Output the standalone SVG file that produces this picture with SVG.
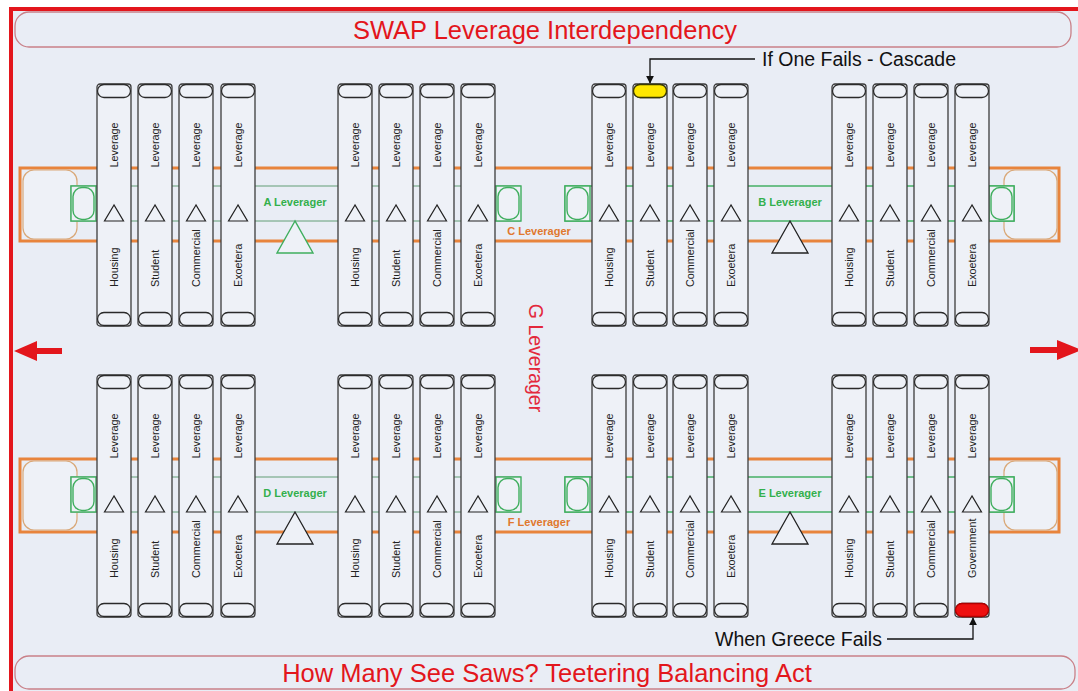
<svg xmlns="http://www.w3.org/2000/svg" xmlns:xlink="http://www.w3.org/1999/xlink" width="1078" height="691" viewBox="0 0 1078 691">
  <style>
    .frame { fill: #e9edf5; stroke: #e3161c; stroke-width: 4; }
    .banner { fill: #e9edf5; stroke: #c98088; stroke-width: 1.3; }
    .bannerText { font-family: "Liberation Sans", Arial, sans-serif; font-size: 25.5px; fill: #e3161c; text-anchor: middle; }
    .body { fill: #eef1f7; stroke: #3c3c3c; stroke-width: 1.3; }
    .cap { fill: #eef1f7; stroke: #2a2a2a; stroke-width: 1.3; }
    .tri { fill: #eef1f7; stroke: #222; stroke-width: 1.2; }
    .lbl { font-family: "Liberation Sans", Arial, sans-serif; font-size: 10.8px; fill: #222; dominant-baseline: central; }
    .top { text-anchor: middle; }
    .bot { text-anchor: start; }
    .rail { fill: none; stroke: #e8843c; stroke-width: 3; }
    .endcap { fill: #eef1f7; stroke: #d9a878; stroke-width: 1.2; }
    .beam { fill: none; stroke: #45b065; stroke-width: 1.5; }
    .beamA { fill: none; stroke: #8fb8a0; stroke-width: 1.5; }
    .box { fill: #eef1f7; stroke: #3fae5e; stroke-width: 1.4; }
    .pivotG { fill: #eef1f7; stroke: #3fae5e; stroke-width: 1.4; }
    .pivotK { fill: #eef1f7; stroke: #222; stroke-width: 1.3; }
    .gl { font-family: "Liberation Sans", Arial, sans-serif; font-size: 11px; font-weight: bold; fill: #33b04c; text-anchor: middle; dominant-baseline: central; }
    .ol { font-family: "Liberation Sans", Arial, sans-serif; font-size: 11px; font-weight: bold; fill: #e0782e; text-anchor: middle; dominant-baseline: central; }
    .note { font-family: "Liberation Sans", Arial, sans-serif; font-size: 19.5px; fill: #111; dominant-baseline: central; }
    .lead { fill: none; stroke: #111; stroke-width: 1.3; }
    .redArrow { fill: #e3161c; }
  </style>
  <defs>
    <!-- one leverage column: body, top and bottom caps, fulcrum mark -->
    <g id="col">
      <rect class="body" x="0" y="0" width="34" height="242" rx="3"/>
      <rect class="cap" x="0.5" y="0.5" width="33" height="13" rx="6.5"/>
      <rect class="cap" x="0.5" y="228.5" width="33" height="13" rx="6.5"/>
      <polygon class="tri" points="17,121 7.5,137 26.5,137"/>
    </g>
    <!-- square end of a see-saw beam with its rounded seat -->
    <g id="seat">
      <rect class="box" x="0" y="0" width="25" height="35"/>
      <rect class="box" x="2" y="1.5" width="21" height="32" rx="9"/>
    </g>
    <marker id="tip" viewBox="0 0 10 10" refX="9" refY="5" markerWidth="6" markerHeight="6" orient="auto">
      <path d="M0,0 L10,5 L0,10 z" fill="#111"/>
    </marker>
  </defs>

  <rect x="0" y="0" width="1078" height="691" fill="#ffffff"/>
  <rect class="frame" x="11" y="9" width="1100" height="700"/>

  <g id="title">
    <rect class="banner" x="15" y="12" width="1056" height="35" rx="14"/>
    <text class="bannerText" x="545" y="38.5">SWAP Leverage Interdependency</text>
  </g>
  <g id="footer">
    <rect class="banner" x="15" y="656" width="1060" height="33" rx="14"/>
    <text class="bannerText" x="547" y="681.5">How Many See Saws? Teetering Balancing Act</text>
  </g>

  <!-- rails and beams sit behind the columns -->
  <g id="connectors">
    <!-- upper row -->
    <g id="c-leverager-top">
      <rect class="rail" x="20" y="168" width="1039" height="73"/>
      <rect class="endcap" x="23" y="170" width="54" height="69" rx="11"/>
      <rect class="endcap" x="1004" y="170" width="53" height="69" rx="11"/>
    </g>
    <g id="a-leverager">
      <rect class="beamA" x="71" y="186" width="449" height="35"/>
      <use xlink:href="#seat" x="71" y="186"/>
      <use xlink:href="#seat" x="496" y="186"/>
      <polygon class="pivotG" points="295,221 277,253 313,253"/>
    </g>
    <g id="b-leverager">
      <rect class="beam" x="565" y="186" width="449" height="35"/>
      <use xlink:href="#seat" x="565" y="186"/>
      <use xlink:href="#seat" x="989" y="186"/>
      <polygon class="pivotK" points="790,221 772,253 808,253"/>
    </g>
    <!-- lower row -->
    <g id="f-leverager-bottom">
      <rect class="rail" x="20" y="459" width="1039" height="73"/>
      <rect class="endcap" x="23" y="461" width="54" height="69" rx="11"/>
      <rect class="endcap" x="1004" y="461" width="53" height="69" rx="11"/>
    </g>
    <g id="d-leverager">
      <rect class="beamA" x="71" y="477" width="449" height="35"/>
      <use xlink:href="#seat" x="71" y="477"/>
      <use xlink:href="#seat" x="496" y="477"/>
      <polygon class="pivotK" points="295,512 277,544 313,544"/>
    </g>
    <g id="e-leverager">
      <rect class="beam" x="565" y="477" width="449" height="35"/>
      <use xlink:href="#seat" x="565" y="477"/>
      <use xlink:href="#seat" x="989" y="477"/>
      <polygon class="pivotK" points="790,512 772,544 808,544"/>
    </g>
  </g>

  <!-- upper row of columns -->
  <g id="r1-c01" transform="translate(97,84)"><use xlink:href="#col"/><text class="lbl top" transform="translate(17,61) rotate(-90)">Leverage</text><text class="lbl bot" transform="translate(17,203) rotate(-90)">Housing</text></g>
  <g id="r1-c02" transform="translate(138,84)"><use xlink:href="#col"/><text class="lbl top" transform="translate(17,61) rotate(-90)">Leverage</text><text class="lbl bot" transform="translate(17,203) rotate(-90)">Student</text></g>
  <g id="r1-c03" transform="translate(179,84)"><use xlink:href="#col"/><text class="lbl top" transform="translate(17,61) rotate(-90)">Leverage</text><text class="lbl bot" transform="translate(17,203) rotate(-90)">Commercial</text></g>
  <g id="r1-c04" transform="translate(221,84)"><use xlink:href="#col"/><text class="lbl top" transform="translate(17,61) rotate(-90)">Leverage</text><text class="lbl bot" transform="translate(17,203) rotate(-90)">Exoetera</text></g>

  <g id="r1-c05" transform="translate(338,84)"><use xlink:href="#col"/><text class="lbl top" transform="translate(17,61) rotate(-90)">Leverage</text><text class="lbl bot" transform="translate(17,203) rotate(-90)">Housing</text></g>
  <g id="r1-c06" transform="translate(379,84)"><use xlink:href="#col"/><text class="lbl top" transform="translate(17,61) rotate(-90)">Leverage</text><text class="lbl bot" transform="translate(17,203) rotate(-90)">Student</text></g>
  <g id="r1-c07" transform="translate(420,84)"><use xlink:href="#col"/><text class="lbl top" transform="translate(17,61) rotate(-90)">Leverage</text><text class="lbl bot" transform="translate(17,203) rotate(-90)">Commercial</text></g>
  <g id="r1-c08" transform="translate(461,84)"><use xlink:href="#col"/><text class="lbl top" transform="translate(17,61) rotate(-90)">Leverage</text><text class="lbl bot" transform="translate(17,203) rotate(-90)">Exoetera</text></g>

  <g id="r1-c09" transform="translate(592,84)"><use xlink:href="#col"/><text class="lbl top" transform="translate(17,61) rotate(-90)">Leverage</text><text class="lbl bot" transform="translate(17,203) rotate(-90)">Housing</text></g>
  <g id="r1-c10" transform="translate(633,84)"><use xlink:href="#col"/><rect x="0.5" y="0.5" width="33" height="13" rx="6.5" fill="#ffe800" stroke="#3a3a00" stroke-width="1.3"/><text class="lbl top" transform="translate(17,61) rotate(-90)">Leverage</text><text class="lbl bot" transform="translate(17,203) rotate(-90)">Student</text></g>
  <g id="r1-c11" transform="translate(673,84)"><use xlink:href="#col"/><text class="lbl top" transform="translate(17,61) rotate(-90)">Leverage</text><text class="lbl bot" transform="translate(17,203) rotate(-90)">Commercial</text></g>
  <g id="r1-c12" transform="translate(714,84)"><use xlink:href="#col"/><text class="lbl top" transform="translate(17,61) rotate(-90)">Leverage</text><text class="lbl bot" transform="translate(17,203) rotate(-90)">Exoetera</text></g>

  <g id="r1-c13" transform="translate(832,84)"><use xlink:href="#col"/><text class="lbl top" transform="translate(17,61) rotate(-90)">Leverage</text><text class="lbl bot" transform="translate(17,203) rotate(-90)">Housing</text></g>
  <g id="r1-c14" transform="translate(873,84)"><use xlink:href="#col"/><text class="lbl top" transform="translate(17,61) rotate(-90)">Leverage</text><text class="lbl bot" transform="translate(17,203) rotate(-90)">Student</text></g>
  <g id="r1-c15" transform="translate(914,84)"><use xlink:href="#col"/><text class="lbl top" transform="translate(17,61) rotate(-90)">Leverage</text><text class="lbl bot" transform="translate(17,203) rotate(-90)">Commercial</text></g>
  <g id="r1-c16" transform="translate(955,84)"><use xlink:href="#col"/><text class="lbl top" transform="translate(17,61) rotate(-90)">Leverage</text><text class="lbl bot" transform="translate(17,203) rotate(-90)">Exoetera</text></g>

  <!-- lower row of columns -->
  <g id="r2-c01" transform="translate(97,375)"><use xlink:href="#col"/><text class="lbl top" transform="translate(17,61) rotate(-90)">Leverage</text><text class="lbl bot" transform="translate(17,203) rotate(-90)">Housing</text></g>
  <g id="r2-c02" transform="translate(138,375)"><use xlink:href="#col"/><text class="lbl top" transform="translate(17,61) rotate(-90)">Leverage</text><text class="lbl bot" transform="translate(17,203) rotate(-90)">Student</text></g>
  <g id="r2-c03" transform="translate(179,375)"><use xlink:href="#col"/><text class="lbl top" transform="translate(17,61) rotate(-90)">Leverage</text><text class="lbl bot" transform="translate(17,203) rotate(-90)">Commercial</text></g>
  <g id="r2-c04" transform="translate(221,375)"><use xlink:href="#col"/><text class="lbl top" transform="translate(17,61) rotate(-90)">Leverage</text><text class="lbl bot" transform="translate(17,203) rotate(-90)">Exoetera</text></g>

  <g id="r2-c05" transform="translate(338,375)"><use xlink:href="#col"/><text class="lbl top" transform="translate(17,61) rotate(-90)">Leverage</text><text class="lbl bot" transform="translate(17,203) rotate(-90)">Housing</text></g>
  <g id="r2-c06" transform="translate(379,375)"><use xlink:href="#col"/><text class="lbl top" transform="translate(17,61) rotate(-90)">Leverage</text><text class="lbl bot" transform="translate(17,203) rotate(-90)">Student</text></g>
  <g id="r2-c07" transform="translate(420,375)"><use xlink:href="#col"/><text class="lbl top" transform="translate(17,61) rotate(-90)">Leverage</text><text class="lbl bot" transform="translate(17,203) rotate(-90)">Commercial</text></g>
  <g id="r2-c08" transform="translate(461,375)"><use xlink:href="#col"/><text class="lbl top" transform="translate(17,61) rotate(-90)">Leverage</text><text class="lbl bot" transform="translate(17,203) rotate(-90)">Exoetera</text></g>

  <g id="r2-c09" transform="translate(592,375)"><use xlink:href="#col"/><text class="lbl top" transform="translate(17,61) rotate(-90)">Leverage</text><text class="lbl bot" transform="translate(17,203) rotate(-90)">Housing</text></g>
  <g id="r2-c10" transform="translate(633,375)"><use xlink:href="#col"/><text class="lbl top" transform="translate(17,61) rotate(-90)">Leverage</text><text class="lbl bot" transform="translate(17,203) rotate(-90)">Student</text></g>
  <g id="r2-c11" transform="translate(673,375)"><use xlink:href="#col"/><text class="lbl top" transform="translate(17,61) rotate(-90)">Leverage</text><text class="lbl bot" transform="translate(17,203) rotate(-90)">Commercial</text></g>
  <g id="r2-c12" transform="translate(714,375)"><use xlink:href="#col"/><text class="lbl top" transform="translate(17,61) rotate(-90)">Leverage</text><text class="lbl bot" transform="translate(17,203) rotate(-90)">Exoetera</text></g>

  <g id="r2-c13" transform="translate(832,375)"><use xlink:href="#col"/><text class="lbl top" transform="translate(17,61) rotate(-90)">Leverage</text><text class="lbl bot" transform="translate(17,203) rotate(-90)">Housing</text></g>
  <g id="r2-c14" transform="translate(873,375)"><use xlink:href="#col"/><text class="lbl top" transform="translate(17,61) rotate(-90)">Leverage</text><text class="lbl bot" transform="translate(17,203) rotate(-90)">Student</text></g>
  <g id="r2-c15" transform="translate(914,375)"><use xlink:href="#col"/><text class="lbl top" transform="translate(17,61) rotate(-90)">Leverage</text><text class="lbl bot" transform="translate(17,203) rotate(-90)">Commercial</text></g>
  <g id="r2-c16" transform="translate(955,375)"><use xlink:href="#col"/><rect x="0.5" y="228.5" width="33" height="13" rx="6.5" fill="#ee1010" stroke="#b00000" stroke-width="1.3"/><text class="lbl top" transform="translate(17,61) rotate(-90)">Leverage</text><text class="lbl bot" transform="translate(17,203) rotate(-90)">Government</text></g>

  <!-- beam labels -->
  <g id="labels">
    <text class="gl" x="295" y="202">A Leverager</text>
    <text class="gl" x="790" y="202">B Leverager</text>
    <text class="ol" x="539" y="231">C Leverager</text>
    <text class="gl" x="295" y="493">D Leverager</text>
    <text class="gl" x="790" y="493">E Leverager</text>
    <text class="ol" x="539" y="522">F Leverager</text>
    <text transform="translate(536,358) rotate(90)" font-family="Liberation Sans, Arial, sans-serif" font-size="19.5" fill="#e3283c" text-anchor="middle" dominant-baseline="central">G Leverager</text>
  </g>

  <!-- callouts and direction arrows -->
  <g id="callouts">
    <polyline class="lead" points="755,59 650,59 650,83" marker-end="url(#tip)"/>
    <text class="note" x="762" y="59">If One Fails - Cascade</text>
    <polyline class="lead" points="887,639 973,639 973,618" marker-end="url(#tip)"/>
    <text class="note" x="715" y="639">When Greece Fails</text>
    <g id="arrow-left">
      <rect class="redArrow" x="32" y="348" width="30" height="6"/>
      <polygon class="redArrow" points="14,351 37,341 37,361"/>
    </g>
    <g id="arrow-right">
      <rect class="redArrow" x="1030" y="347" width="30" height="6"/>
      <polygon class="redArrow" points="1082,350 1057,340 1057,360"/>
    </g>
  </g>
</svg>
